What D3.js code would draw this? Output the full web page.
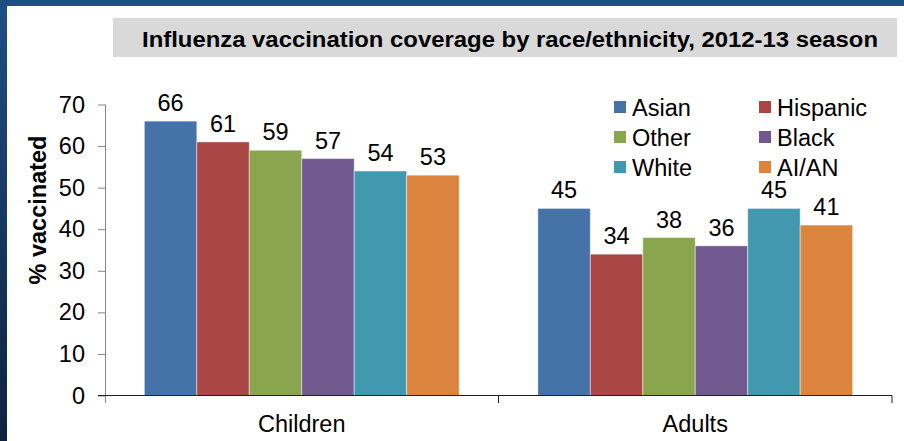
<!DOCTYPE html>
<html>
<head>
<meta charset="utf-8">
<script src="https://cdn.jsdelivr.net/npm/d3@7"></script>
<style>
  html, body { margin: 0; padding: 0; background: #fff; }
  svg { display: block; font-family: "Liberation Sans", Arial, sans-serif; }
</style>
</head>
<body>
<svg id="chart" width="904" height="441"></svg>
<script>
// Chart data
const categories = ["Children", "Adults"];
const groups = ["Asian", "Hispanic", "Other", "Black", "White", "AI/AN"];
const childrenValues = [66, 61, 59, 57, 54, 53];
const adultValues = [45, 34, 38, 36, 45, 41];
const yTicks = [0, 10, 20, 30, 40, 50, 60, 70];
const groupColors = ["#4572A7", "#AA4643", "#89A54E", "#71588F", "#4198AF", "#DB843D"];
const titleText = "Influenza vaccination coverage by race/ethnicity, 2012-13 season";
const yLabel = "% vaccinated";

const valuesByCategory = { Children: childrenValues, Adults: adultValues };

const svg = d3.select("#chart");
const W = 904, H = 441;
const FS = 23.5;

// Slide frame: blue band along top and left edges
const defs = svg.append("defs");
const grad = defs.append("linearGradient").attr("id", "sideGrad")
  .attr("x1", 0).attr("y1", 0).attr("x2", 0).attr("y2", 1);
grad.append("stop").attr("offset", "0%").attr("stop-color", "#1F4E85");
grad.append("stop").attr("offset", "100%").attr("stop-color", "#0E223E");
svg.append("rect").attr("x", 0).attr("y", 0).attr("width", 7).attr("height", H).attr("fill", "url(#sideGrad)");
svg.append("rect").attr("x", 0).attr("y", 0).attr("width", W).attr("height", 6).attr("fill", "#1F4E85");

// Title banner
svg.append("rect").attr("x", 113).attr("y", 18).attr("width", 784).attr("height", 39).attr("fill", "#D9D9D9");
svg.append("text").attr("x", 142).attr("y", 46.5)
  .attr("textLength", 736).attr("lengthAdjust", "spacingAndGlyphs")
  .attr("font-size", 22.5).attr("font-weight", "bold").attr("fill", "#000").text(titleText);

// Scales
const y = d3.scaleLinear().domain([0, 70]).range([395.5, 104.5]);
const x0 = d3.scaleBand().domain(categories).range([105, 892]);
const x1 = d3.scaleBand().domain(groups).range([0, x0.bandwidth()]).paddingInner(0).paddingOuter(0.75);
const color = d3.scaleOrdinal().domain(groups).range(groupColors);

// Y axis
const yAxis = svg.append("g").attr("transform", "translate(105,0)")
  .call(d3.axisLeft(y).tickValues(yTicks).tickSize(7).tickPadding(13).tickSizeOuter(0));
yAxis.select(".domain").attr("stroke", "#868686").attr("d", "M0.5," + y(70) + "V403");
yAxis.selectAll(".tick line").attr("stroke", "#868686");
yAxis.selectAll(".tick text").attr("font-size", FS).attr("fill", "#000")
  .attr("font-family", "'Liberation Sans', Arial, sans-serif");

// Y axis title
svg.append("text").attr("transform", "translate(46,210) rotate(-90)")
  .attr("text-anchor", "middle").attr("font-size", FS).attr("font-weight", "bold")
  .attr("fill", "#000").text(yLabel);

// Bars
const bars = svg.append("g");
categories.forEach(cat => {
  const vals = valuesByCategory[cat];
  const g = bars.append("g").attr("transform", `translate(${x0(cat)},0)`);
  g.selectAll("rect").data(groups.map((k, i) => ({ k, v: vals[i] })))
    .join("rect")
    .attr("x", d => x1(d.k))
    .attr("y", d => y(d.v))
    .attr("width", x1.bandwidth())
    .attr("height", d => y(0) - y(d.v))
    .attr("fill", d => color(d.k))
    .attr("stroke", "rgba(255,255,255,0.45)")
    .attr("stroke-width", 1);
  g.selectAll("text").data(groups.map((k, i) => ({ k, v: vals[i] })))
    .join("text")
    .attr("x", d => x1(d.k) + x1.bandwidth() / 2)
    .attr("y", d => y(d.v) - 10)
    .attr("text-anchor", "middle")
    .attr("font-size", FS)
    .attr("fill", "#000")
    .text(d => d.v);
});

// X axis
const xAxisY = y(0);
const xg = svg.append("g");
xg.append("line").attr("x1", 98).attr("x2", 892).attr("y1", xAxisY).attr("y2", xAxisY)
  .attr("stroke", "#222").attr("stroke-width", 1);
const boundaries = [x0.range()[0] + x0.bandwidth(), x0.range()[1]];
xg.selectAll("line.div").data(boundaries).join("line").attr("class", "div")
  .attr("x1", d => d).attr("x2", d => d)
  .attr("y1", xAxisY).attr("y2", 403).attr("stroke", "#222");
xg.selectAll("text").data(categories).join("text")
  .attr("x", d => x0(d) + x0.bandwidth() / 2)
  .attr("y", 432)
  .attr("text-anchor", "middle")
  .attr("font-size", FS)
  .attr("fill", "#000")
  .text(d => d);

// Legend: two columns, three rows
const legendCols = [614, 759];
const legend = svg.append("g");
groups.forEach((k, i) => {
  const col = i % 2, row = Math.floor(i / 2);
  const lx = legendCols[col], ly = 107 + row * 30;
  legend.append("rect").attr("x", lx).attr("y", ly - 6).attr("width", 12).attr("height", 12)
    .attr("fill", color(k));
  legend.append("text").attr("x", lx + 18).attr("y", ly + 8.5)
    .attr("font-size", FS).attr("fill", "#000").text(k);
});
</script>
</body>
</html>
